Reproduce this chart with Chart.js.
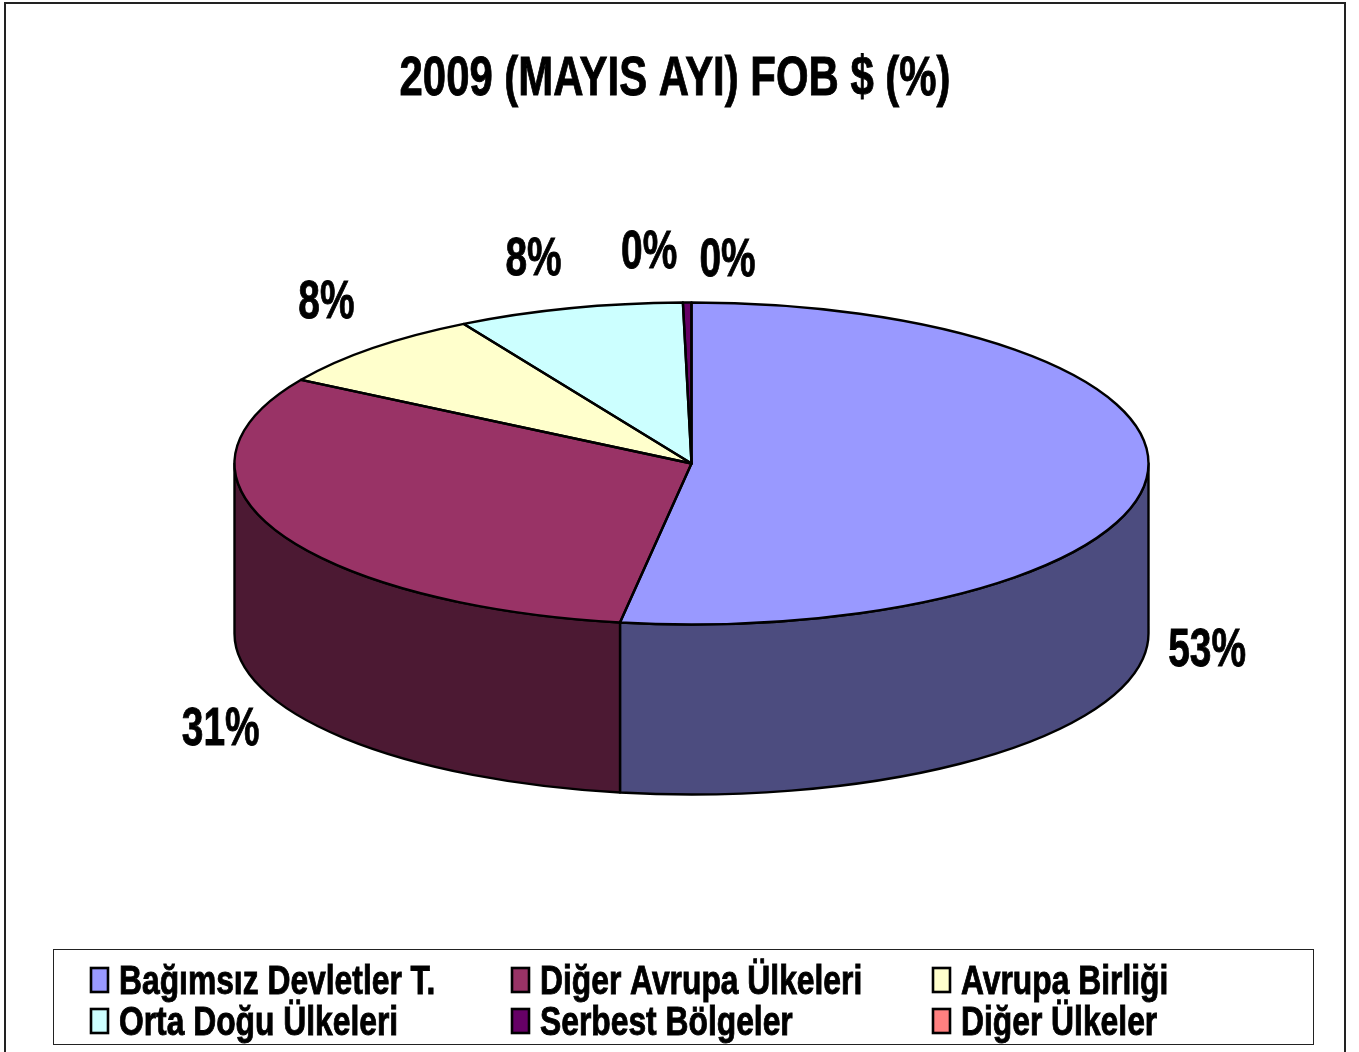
<!DOCTYPE html>
<html>
<head>
<meta charset="utf-8">
<title>2009 (MAYIS AYI) FOB $ (%)</title>
<script src="https://cdn.jsdelivr.net/npm/chart.js@4/dist/chart.umd.min.js"></script>
<style>
    html, body { margin: 0; padding: 0; background: #fff; overflow: hidden; }
    canvas { display: block; }
</style>
</head>
<body>
<canvas id="pieChart" width="1359" height="1052"></canvas>
<script>
// veriler
const chartTitle = "2009 (MAYIS AYI) FOB $ (%)";
const categories = ["Bağımsız Devletler T.", "Diğer Avrupa Ülkeleri", "Avrupa Birliği", "Orta Doğu Ülkeleri", "Serbest Bölgeler", "Diğer Ülkeler"];
const shares = [52.5, 31.2, 8.0, 8.0, 0.3, 0.0];
const sliceColors = ["#9999FF", "#993366", "#FFFFCC", "#CCFFFF", "#660066", "#FF8080"];

// görünüm ayarları
const FONT_NAME = '"Liberation Sans", Arial, sans-serif';
const PIE = { cx: 691.5, cy: 463.5, rx: 457, ry: 161, depth: 170 };
const labelNudges = [[60, 172], [-56, 196], [-46, -48], [-36, -51], [-38, -53], [36, -45]];
const legendBox = { x: 53.5, y: 949.5, w: 1260, h: 95 };
const legendCols = [90, 511, 932];
const legendRows = [981, 1022];

function darken(hex) {
    const n = parseInt(hex.slice(1), 16);
    return `rgb(${(n >> 16) >> 1},${((n >> 8) & 255) >> 1},${(n & 255) >> 1})`;
}

// dar yazı: metni yatayda sıkıştırarak çiz, ince konturla kalınlaştır
function narrowText(ctx, text, x, y, size, xScale, align) {
    ctx.save();
    ctx.translate(x, y);
    ctx.scale(xScale, 1);
    ctx.font = `bold ${size}px ${FONT_NAME}`;
    ctx.fillStyle = '#000';
    ctx.strokeStyle = '#000';
    ctx.lineWidth = 0.9;
    ctx.textAlign = align;
    ctx.textBaseline = 'alphabetic';
    ctx.fillText(text, 0, 0);
    ctx.strokeText(text, 0, 0);
    ctx.restore();
}

// pasta elemanını elipse çeviren dönüşüm
function applyPieTransform(ctx, arc) {
    ctx.translate(PIE.cx, PIE.cy);
    ctx.scale(PIE.rx / arc.outerRadius, PIE.ry / arc.outerRadius);
    ctx.translate(-arc.x, -arc.y);
}

const pie3d = {
    id: 'pie3d',
    beforeDraw(chart) {
        const ctx = chart.ctx;
        // dış çerçeve
        ctx.save();
        ctx.strokeStyle = '#222';
        ctx.lineWidth = 2;
        ctx.beginPath();
        ctx.moveTo(5, 1052);
        ctx.lineTo(5, 3);
        ctx.lineTo(1345, 3);
        ctx.lineTo(1345, 1052);
        ctx.stroke();
        ctx.restore();
    },
    beforeDatasetsDraw(chart) {
        const ctx = chart.ctx;
        const arcs = chart.getDatasetMeta(0).data;
        // yan duvar
        ctx.save();
        ctx.lineWidth = 2.4;
        ctx.strokeStyle = '#000';
        ctx.lineJoin = 'round';
        arcs.forEach((arc, i) => {
            const a0 = Math.max(arc.startAngle, 0);
            const a1 = Math.min(arc.endAngle, Math.PI);
            if (a1 <= a0) return;
            ctx.beginPath();
            ctx.ellipse(PIE.cx, PIE.cy, PIE.rx, PIE.ry, 0, a0, a1);
            ctx.ellipse(PIE.cx, PIE.cy + PIE.depth, PIE.rx, PIE.ry, 0, a1, a0, true);
            ctx.closePath();
            ctx.fillStyle = darken(sliceColors[i]);
            ctx.fill();
            ctx.stroke();
        });
        ctx.restore();
        // üst yüz kütüphane tarafından bu dönüşümle çizilir
        ctx.save();
        applyPieTransform(ctx, arcs[0]);
    },
    afterDatasetsDraw(chart) {
        const ctx = chart.ctx;
        const arcs = chart.getDatasetMeta(0).data;
        ctx.restore();
        // dilim kenarları: yol dönüşümle, çizgi dönüşümsüz
        ctx.save();
        ctx.lineWidth = 2.4;
        ctx.strokeStyle = '#000';
        ctx.lineJoin = 'round';
        arcs.forEach(arc => {
            if (arc.endAngle - arc.startAngle <= 0) return;
            ctx.save();
            applyPieTransform(ctx, arc);
            ctx.beginPath();
            ctx.moveTo(arc.x, arc.y);
            ctx.arc(arc.x, arc.y, arc.outerRadius, arc.startAngle, arc.endAngle);
            ctx.closePath();
            ctx.restore();
            ctx.stroke();
        });
        ctx.restore();
    },
    afterDraw(chart) {
        const ctx = chart.ctx;
        const arcs = chart.getDatasetMeta(0).data;

        narrowText(ctx, chartTitle, 675, 95, 56, 0.748, 'center');

        // yüzde etiketleri
        arcs.forEach((arc, i) => {
            const mid = (arc.startAngle + arc.endAngle) / 2;
            const x = PIE.cx + PIE.rx * Math.cos(mid) + labelNudges[i][0];
            const y = PIE.cy + PIE.ry * Math.sin(mid) + labelNudges[i][1];
            narrowText(ctx, Math.round(shares[i]) + '%', x, y + 18, 54, 0.72, 'center');
        });

        // lejant
        ctx.save();
        ctx.strokeStyle = '#222';
        ctx.lineWidth = 1;
        ctx.strokeRect(legendBox.x, legendBox.y, legendBox.w, legendBox.h);
        categories.forEach((name, i) => {
            const col = legendCols[i % 3];
            const row = legendRows[Math.floor(i / 3)];
            ctx.fillStyle = sliceColors[i];
            ctx.lineWidth = 2.6;
            ctx.strokeStyle = '#000';
            ctx.fillRect(col + 1, row - 13, 17, 24);
            ctx.strokeRect(col + 1, row - 13, 17, 24);
            narrowText(ctx, name, col + 29, row + 13, 40, 0.795, 'left');
        });
        ctx.restore();
    }
};

new Chart(document.getElementById('pieChart').getContext('2d'), {
    type: 'pie',
    data: {
        labels: categories,
        datasets: [{
            data: shares,
            backgroundColor: sliceColors,
            borderWidth: 0
        }]
    },
    options: {
        responsive: false,
        animation: false,
        plugins: { legend: { display: false }, title: { display: false }, tooltip: { enabled: false } }
    },
    plugins: [pie3d]
});
</script>
</body>
</html>
